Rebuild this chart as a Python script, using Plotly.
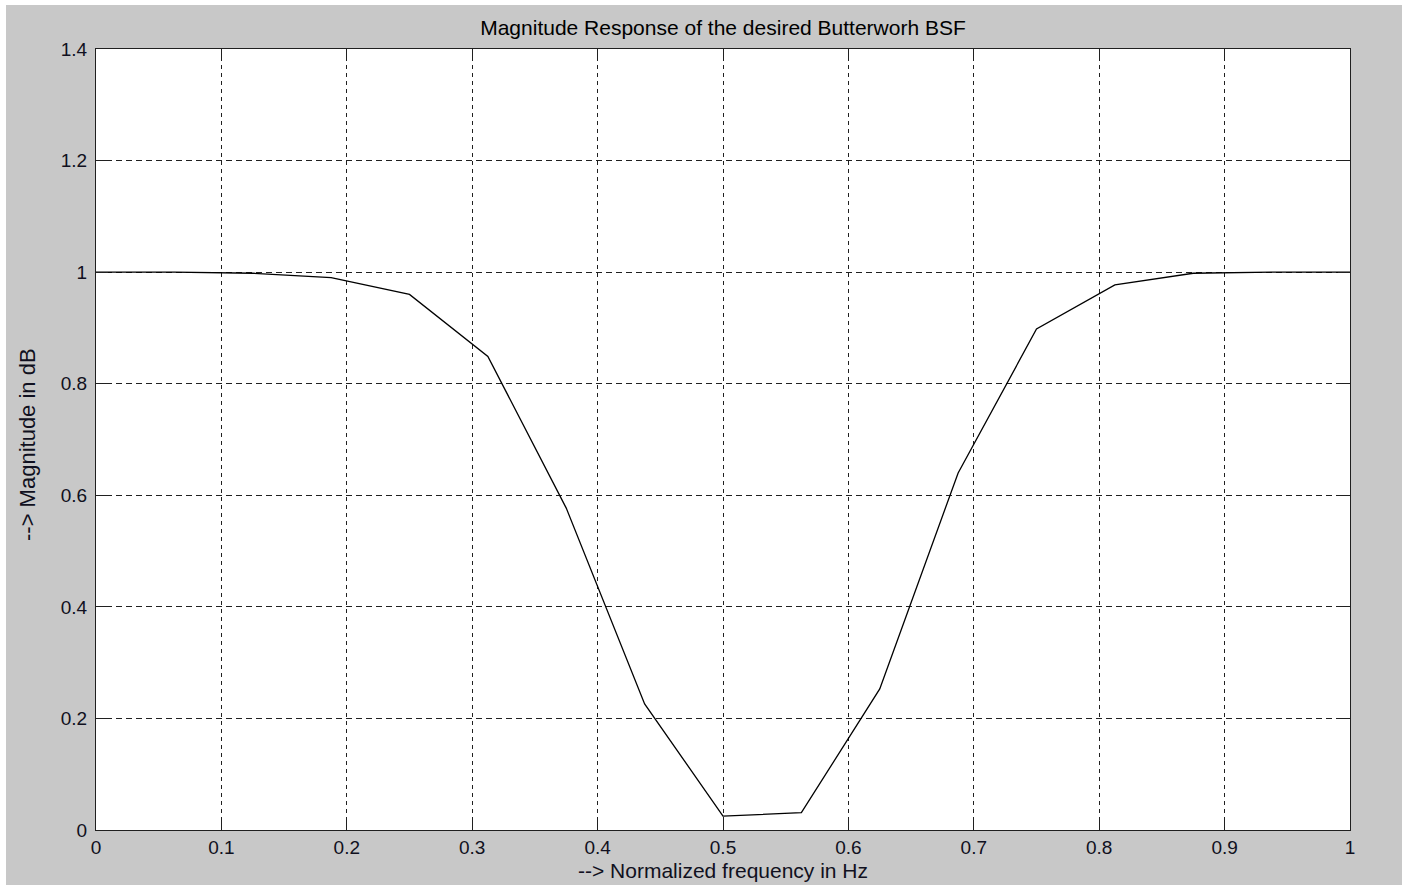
import plotly.graph_objects as go

# Normalized frequency samples (0 .. 1 in steps of 1/16) and magnitude of the stop-band filter
freq = [0.0, 0.0625, 0.125, 0.1875, 0.25, 0.3125, 0.375, 0.4375, 0.5,
        0.5625, 0.625, 0.6875, 0.75, 0.8125, 0.875, 0.9375, 1.0]
magnitude = [1.0, 0.9999, 0.998, 0.990, 0.960, 0.849, 0.577, 0.226, 0.025,
             0.031, 0.253, 0.640, 0.898, 0.977, 0.998, 0.9999, 1.0]

x_ticks = [0, 0.1, 0.2, 0.3, 0.4, 0.5, 0.6, 0.7, 0.8, 0.9, 1]
x_tick_text = ["0", "0.1", "0.2", "0.3", "0.4", "0.5", "0.6", "0.7", "0.8", "0.9", "1"]
y_ticks = [0, 0.2, 0.4, 0.6, 0.8, 1.0, 1.2, 1.4]
y_tick_text = ["0", "0.2", "0.4", "0.6", "0.8", "1", "1.2", "1.4"]

W, H = 1402, 885
ML, MR, MT, MB = 96, 52, 49, 55
PW, PH = W - ML - MR, H - MT - MB

FONT = "Liberation Sans, Arial, sans-serif"
INK = "#101020"


def px_x(p):
    return (p - ML) / PW


def px_y(p):
    return (H - MB - p) / PH


fig = go.Figure()
fig.add_trace(go.Scatter(
    x=freq, y=magnitude, mode="lines",
    line=dict(color="black", width=1.3),
    hoverinfo="skip", showlegend=False,
))

axis_common = dict(
    showline=True, linecolor="#202020", linewidth=1.3, mirror="allticks",
    ticks="inside", ticklen=12, tickwidth=1.3, tickcolor="#202020",
    showgrid=True, gridcolor="#202020", gridwidth=1,
    zeroline=False, tickfont=dict(family=FONT, size=19, color=INK),
    fixedrange=True,
)

fig.update_xaxes(range=[0, 1], tickvals=x_ticks, ticktext=x_tick_text,
                 griddash="4px,4px", ticklabelstandoff=0, **axis_common)
fig.update_yaxes(range=[0, 1.4], tickvals=y_ticks, ticktext=y_tick_text,
                 griddash="6px,4px", ticklabelstandoff=4, **axis_common)

fig.update_layout(
    width=W, height=H,
    margin=dict(l=ML, r=MR, t=MT, b=MB, autoexpand=False),
    paper_bgcolor="#c8c8c8", plot_bgcolor="white",
    font=dict(family=FONT, color=INK),
    title=dict(text="Magnitude Response of the desired Butterworh BSF",
               x=0.5 * (ML + W - MR) / W, xanchor="center",
               y=1 - 28 / H, yanchor="middle",
               font=dict(family=FONT, size=21, color="black")),
    annotations=[
        dict(text="--> Normalized frequency in Hz", xref="paper", yref="paper",
             x=0.5, y=px_y(870), xanchor="center", yanchor="middle",
             showarrow=False, font=dict(family=FONT, size=21, color=INK)),
        dict(text="--> Magnitude in dB", xref="paper", yref="paper",
             x=px_x(27), y=px_y(445), xanchor="center", yanchor="middle",
             textangle=-90, showarrow=False,
             font=dict(family=FONT, size=22, color=INK)),
    ],
    shapes=[
        # thin white frame strips at the left and top edges of the page
        dict(type="rect", xref="paper", yref="paper", layer="above",
             x0=px_x(0), x1=px_x(6), y0=px_y(H), y1=px_y(0),
             fillcolor="white", line=dict(width=0)),
        dict(type="rect", xref="paper", yref="paper", layer="above",
             x0=px_x(0), x1=px_x(W), y0=px_y(5), y1=px_y(0),
             fillcolor="white", line=dict(width=0)),
    ],
)

fig.write_html("out.html", config=dict(displayModeBar=False))
